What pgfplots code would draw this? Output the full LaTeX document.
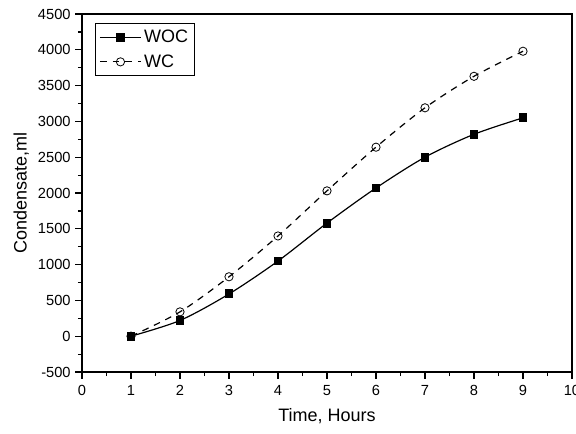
\documentclass[border=0pt]{standalone}
\usepackage{pgfplots}
\pgfplotsset{compat=1.18}
\usepackage{fontspec}
\setmainfont{Liberation Sans}
\begin{document}
\begin{tikzpicture}
\begin{axis}[
  scale only axis,
  width=367.5pt, height=268.5pt,
  xmin=0, xmax=10, ymin=-500, ymax=4500,
  xtick={0,1,...,10}, ytick={-500,0,...,4500},
  minor x tick num=1, minor y tick num=1,
  tick align=outside, xtick pos=left, ytick pos=left,
  major tick length=5pt, minor tick length=3pt,
  axis line style={line width=1pt}, every tick/.style={line width=0.9pt, black},
  /pgf/number format/assume math mode=true,
  /pgf/number format/1000 sep={},
  ticklabel style={font=\fontsize{11}{13}\selectfont},
  xticklabel style={yshift=-1.5pt},
  xlabel={Time, Hours}, ylabel={Condensate,ml},
  label style={font=\fontsize{13.5}{15}\selectfont},
  xlabel style={yshift=-3pt},
  ylabel style={yshift=0pt},
  legend style={at={(0.0265,0.975)}, anchor=north west, draw=black, line width=0.6pt,
    font=\fontsize{13.5}{15}\selectfont, row sep=3.5pt, inner sep=3pt},
  legend cell align=left,
  legend image code/.code={\draw[#1, mark repeat=2, mark phase=2] plot coordinates {(0cm,0cm) (0.54cm,0cm) (1.08cm,0cm)};},
]
\addplot[black, line width=0.9pt, smooth, tension=0.5, mark=square*, mark size=2.9pt, mark options={solid, fill=black}]
  coordinates {(1,0) (2,220) (3,590) (4,1050) (5,1580) (6,2070) (7,2500) (8,2820) (9,3050)};
\addlegendentry{WOC}
\addplot[black, line width=0.9pt, dash pattern=on 5pt off 4.5pt, smooth, tension=0.5, mark=o, mark size=3.1pt, mark options={solid, fill=white, line width=0.6pt}]
  coordinates {(1,0) (2,340) (3,830) (4,1400) (5,2030) (6,2640) (7,3190) (8,3630) (9,3980)};
\addlegendentry{WC}
\end{axis}
\pgfresetboundingbox
\path (-61.5pt,-45.75pt) rectangle (370.5pt,279pt);
\end{tikzpicture}
\end{document}
